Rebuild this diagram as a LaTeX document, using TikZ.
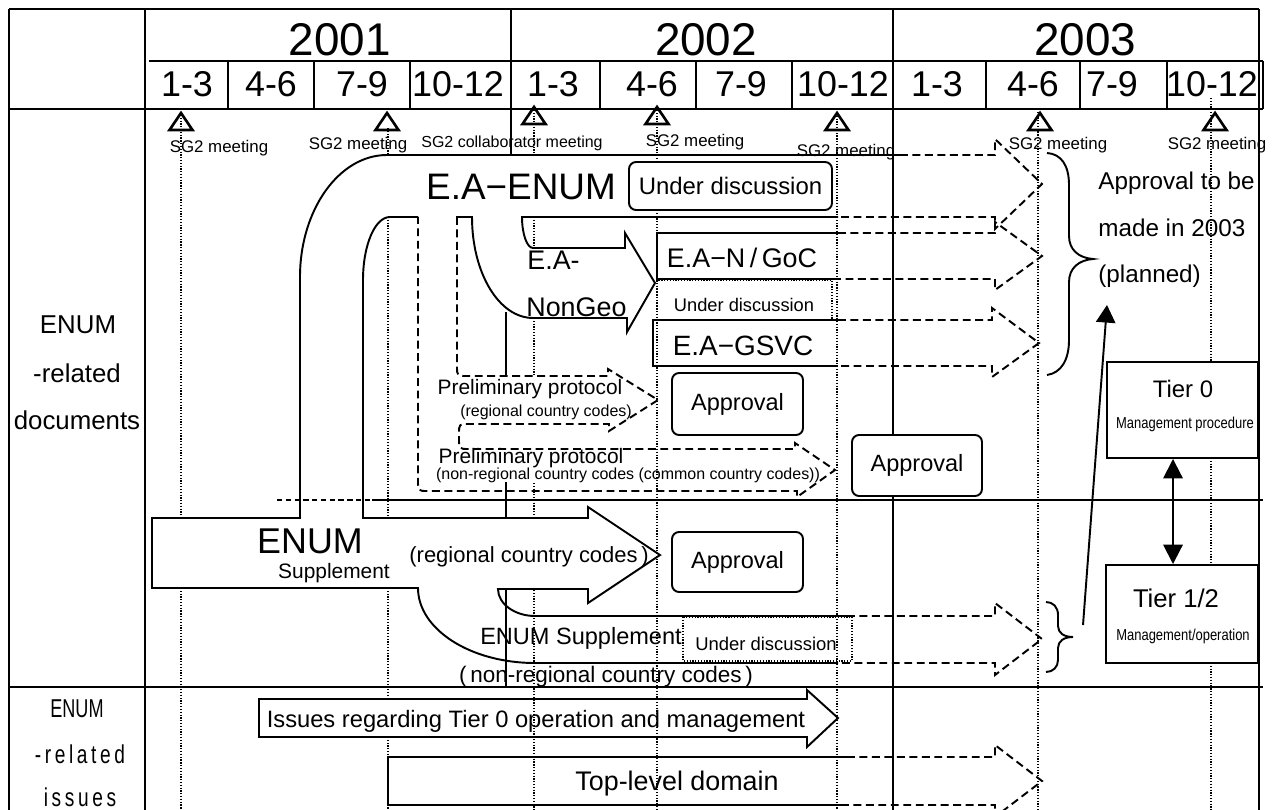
\documentclass[tikz,border=0pt]{standalone}
\usepackage{fontspec}
\setmainfont{Liberation Sans}
\newfontfamily\narrowfont[FakeStretch=0.82]{Liberation Sans}
\newfontfamily\issuenarrow[FakeStretch=0.7]{Liberation Sans}
\newfontfamily\issuespaced[FakeStretch=0.74,LetterSpace=14]{Liberation Sans}
\usetikzlibrary{arrows.meta}
\newlength{\pxu}\setlength{\pxu}{0.02cm}
\newcommand{\fsz}[1]{\fontsize{#1pt}{#1pt}\selectfont}

\begin{document}
\begin{tikzpicture}[x=0.02cm, y=-0.02cm,
  rule/.style={line width=1.1pt},
  thinrule/.style={line width=0.6pt},
  edge/.style={line width=1.1pt, line join=miter},
  dashedge/.style={line width=1.1pt, line join=miter, dash pattern=on 4.5pt off 2.6pt},
  meetline/.style={line width=0.7pt, dash pattern=on 0.7pt off 0.9pt},
  tri/.style={line width=1.5pt, line join=miter},
  lbl/.style={inner sep=0pt, anchor=base},
  lblw/.style={inner sep=0pt, anchor=base west},
  rbox/.style={draw, line width=1.1pt, fill=white, rounded corners=4pt, inner sep=0pt},
  pbox/.style={draw, line width=1.1pt, fill=white, inner sep=0pt},
  tipstyle/.style={line width=1.1pt},
]
\useasboundingbox (0,0) rectangle (1273,810);
\clip (0,0) rectangle (1273,810);
\fill[white] (0,0) rectangle (1273,810);

% ---------- table frame ----------
\draw[rule] (9,9) -- (1259,9);
\draw[rule] (9,9) -- (9,810);
\draw[rule] (1259,9) -- (1259,810);
\draw[rule] (145,9) -- (145,810);
\draw[rule] (149,61) -- (1263,61);
\draw[rule] (9,109) -- (1263,109);
\draw[rule] (1263,61) -- (1263,109);
\draw[rule] (9,687) -- (1263,687);
\foreach \q in {228,314,410,600,696,792,986,1080,1167}
  \draw[rule] (\q,61) -- (\q,109);
% year boundaries
\draw[rule] (511,9) -- (511,155);
\draw[rule] (506,312) -- (506,376);
\draw[rule] (506,482) -- (506,518);
\draw[rule] (506,590) -- (506,687);
\draw[rule] (893,9) -- (893,435);
\draw[rule] (893,496) -- (893,810);
% thin separator inside the documents row
\draw[thinrule, dash pattern=on 3pt off 2pt] (277,500) -- (372,500);
\draw[thinrule] (372,500) -- (1263,500);

% ---------- header ----------
\node[lbl, font=\fsz{26.1}] (y2001) at (340,56) {2001};
\node[lbl, font=\fsz{26.1}] (y2002) at (706,56) {2002};
\node[lbl, font=\fsz{26.1}] (y2003) at (1085,56) {2003};
\foreach \qx/\qt [count=\i] in {187/1-3,271/4-6,362/7-9,458/10-12,553/1-3,652/4-6,741/7-9,843/10-12,937/1-3,1033/4-6,1112/7-9,1212/10-12}
  \node[lbl, font=\fsz{20.4}] (q\i) at (\qx,97) {\qt};

% ---------- row titles ----------
\node[lbl, font=\fsz{14.7}] (docA) at (78,334) {ENUM};
\node[lbl, font=\fsz{14.7}] (docB) at (77,382) {-related};
\node[lbl, font=\fsz{14.7}] (docC) at (77,429) {documents};
\node[lbl, font=\issuenarrow\fsz{14.7}] (isA) at (77,717) {ENUM};
\node[lbl, font=\issuespaced\fsz{14.7}] (isB) at (80,763) {-related};
\node[lbl, font=\issuespaced\fsz{14.7}] (isC) at (80,806) {issues};

% ---------- meetings ----------
\foreach \mx/\my in {181/113,387/113,534/107,657/107,837/113,1040/113,1215/113}
  \draw[tri] (\mx-11.5,\my+17) -- (\mx,\my) -- (\mx+11.5,\my+17) -- cycle;
\node[lbl, font=\fsz{9.6}] (m1) at (219,153) {SG2 meeting};
\node[lbl, font=\fsz{9.6}] (m2) at (358,150) {SG2 meeting};
\node[lbl, font=\fsz{9.1}] (m3) at (512,148) {SG2 collaborator meeting};
\node[lbl, font=\fsz{9.6}] (m4) at (695,147) {SG2 meeting};
\node[lbl, font=\fsz{9.6}] (m5) at (846,157) {SG2 meeting};
\node[lbl, font=\fsz{9.6}] (m6) at (1058,150) {SG2 meeting};
\node[lbl, font=\fsz{9.6}] (m7) at (1217,150) {SG2 meeting};

% ---------- ENUM Supplement trunk and E.A-ENUM branch ----------
\draw[edge] (900,155) -- (387,155) .. controls (339,155) and (300,210) .. (300,277)
  -- (300,518) -- (152,518) -- (152,588) -- (418,588)
  .. controls (418,629) and (470,663) .. (535,663) -- (838,663);
\draw[edge] (418,217) -- (390,217) .. controls (375,217) and (363,245) .. (363,280)
  -- (363,518) -- (588,518) -- (588,507) -- (660,555) -- (588,603) -- (588,589) -- (498,589)
  .. controls (498,604) and (515,616) .. (535,616) -- (847,616);
\draw[edge] (838,217) -- (522,217) .. controls (522,234) and (527,248) .. (533,248)
  -- (625,248) -- (625,233) -- (655,283) -- (627,332) -- (627,318) -- (533,318)
  .. controls (499,318) and (472,273) .. (472,217) -- (456,217);
\draw[dashedge] (900,155) -- (995,155) -- (995,139) -- (1042,184) -- (995,229) -- (995,217) -- (838,217);
\draw[dashedge] (847,616) -- (995,616) -- (995,603) -- (1042,639) -- (995,675) -- (995,663) -- (838,663);

% preliminary protocol fork
\draw[dashedge] (457,217) -- (457,366) .. controls (457,376) .. (467,376) -- (608,376) -- (608,369)
  -- (658,400) -- (609,431) -- (609,424) -- (469,424) .. controls (459,424) .. (459,434)
  -- (459,439) .. controls (459,449) .. (469,449) -- (795,449) -- (795,443) -- (835,470)
  -- (797,497) -- (797,491) -- (428,491) .. controls (418,491) .. (418,481) -- (418,217);

% E.A-N/GoC and E.A-GSVC
\draw[edge] (838,233) -- (657,233) -- (657,279) -- (838,279);
\draw[dashedge] (838,233) -- (995,233) -- (995,222) -- (1042,256) -- (995,290) -- (995,279) -- (838,279);
\draw[meetline] (657,280) rectangle (832,320);
\draw[edge] (838,320) -- (653,320) -- (653,366) -- (838,366);
\draw[dashedge] (838,320) -- (992,320) -- (992,308) -- (1039,343) -- (992,377) -- (992,366) -- (838,366);

% under discussion band of the non-regional supplement
\draw[meetline] (683,617) rectangle (852,661);

% issues row
\draw[edge, fill=white] (259,699) -- (807,699) -- (807,690) -- (838,718) -- (807,747) -- (807,737) -- (259,737) -- cycle;
\draw[edge] (847,757) -- (388,757) -- (388,805) -- (847,805);
\draw[dashedge] (847,757) -- (995,757) -- (995,745) -- (1042,781) -- (995,817) -- (995,805) -- (847,805);

% ---------- meeting lines ----------
\draw[meetline] (181,115) -- (181,518);
\draw[meetline] (181,588) -- (181,810);
\draw[meetline] (388,128) -- (388,155);
\draw[meetline] (388,217) -- (388,518);
\draw[meetline] (388,588) -- (388,699);
\draw[meetline] (388,737) -- (388,810);
\draw[meetline] (534,110) -- (534,155);
\draw[meetline] (534,217) -- (534,248);
\draw[meetline] (534,318) -- (534,376);
\draw[meetline] (534,483) -- (534,518);
\draw[meetline] (534,590) -- (534,810);
\draw[meetline] (657,110) -- (657,162);
\draw[meetline] (657,210) -- (657,810);
\draw[meetline] (837,113) -- (837,810);
\draw[meetline] (1038,109) -- (1038,810);
\draw[meetline] (1211,98) -- (1211,362);
\draw[meetline] (1211,458) -- (1211,565);
\draw[meetline] (1211,663) -- (1211,810);

% ---------- boxes ----------
\node[rbox, minimum width=203\pxu, minimum height=48\pxu, font=\fsz{13.6}] (ud1) at (730.5,186) {Under discussion};
\node[rbox, minimum width=131\pxu, minimum height=62\pxu, font=\fsz{13.4}] (ap1) at (737.5,404) {Approval};
\node[rbox, minimum width=130\pxu, minimum height=61\pxu, font=\fsz{13.4}] (ap2) at (917,465.5) {Approval};
\node[rbox, minimum width=131\pxu, minimum height=60\pxu, font=\fsz{13.4}] (ap3) at (737.5,562) {Approval};
\node[pbox, minimum width=151\pxu, minimum height=96\pxu] (tier0) at (1182.5,410) {};
\node[pbox, minimum width=152\pxu, minimum height=98\pxu] (tier12) at (1182,614) {};

% ---------- texts ----------
\node[lbl, font=\fsz{21}] (eaenum) at (521,200) {E.A−ENUM};
\node[lblw, font=\fsz{15.3}] (eaA) at (527,270) {E.A-};
\node[lblw, font=\fsz{15.3}] (eaB) at (526,317) {NonGeo};
\node[lbl, font=\fsz{15.3}] (goc) at (742,268) {E.A−N\,/\,GoC};
\node[lbl, font=\fsz{10.4}] (ud2) at (744,312) {Under discussion};
\node[lbl, font=\fsz{15.9}] (gsvc) at (743,356) {E.A−GSVC};
\node[lbl, font=\fsz{11.9}] (pp1) at (530,395) {Preliminary protocol};
\node[lbl, font=\fsz{9.1}] (pp1c) at (546,417) {(regional country codes)};
\node[lbl, font=\fsz{11.9}] (pp2) at (531,463) {Preliminary protocol};
\node[lbl, font=\fsz{9.1}] (pp2c) at (628,479) {(non-regional country codes (common country codes))};
\node[lbl, font=\fsz{20.4}] (enum) at (310,553) {ENUM};
\node[lbl, font=\fsz{11.9}] (supp) at (334,578) {Supplement};
\node[lbl, font=\fsz{12.5}] (regcc) at (529,562) {(regional country codes\,)};
\node[lbl, font=\fsz{13.4}] (enumsupp) at (581,644) {ENUM Supplement};
\node[lbl, font=\fsz{10.5}] (ud3) at (766,650) {Under discussion};
\node[lbl, font=\fsz{12.8}] (nonreg) at (606,682) {(\,non-regional country codes\,)};
\node[lbl, font=\fsz{13.5}] (iss) at (536,727) {Issues regarding Tier 0 operation and management};
\node[lbl, font=\fsz{15.3}] (tld) at (677,790) {Top-level domain};
\node[lblw, font=\fsz{13.8}] (plA) at (1098,190) {Approval to be};
\node[lblw, font=\fsz{13.8}] (plB) at (1098,237) {made in 2003};
\node[lblw, font=\fsz{13.8}] (planned) at (1098,283) {(planned)};
\node[lbl, font=\fsz{13.6}] (t0a) at (1183,398) {Tier 0};
\node[lbl, font=\narrowfont\fsz{9}] (t0b) at (1185,428) {Management procedure};
\node[lbl, font=\fsz{14.6}] (t12a) at (1176,607) {Tier 1/2};
\node[lbl, font=\narrowfont\fsz{9}] (t12b) at (1183,640) {Management/operation};

% ---------- braces and connectors ----------
\draw[edge] (1047,153) .. controls (1061,154) and (1069,165) .. (1069,185) -- (1069,236)
  .. controls (1069,250) and (1079,258) .. (1093,259)
  .. controls (1079,260) and (1069,268) .. (1069,282) -- (1069,340)
  .. controls (1069,360) and (1061,373) .. (1047,375);
\draw[edge] (1046,602) .. controls (1053,602) and (1058,607) .. (1058,615) -- (1058,626)
  .. controls (1058,633) and (1064,637) .. (1073,637)
  .. controls (1064,637) and (1058,641) .. (1058,648) -- (1058,660)
  .. controls (1058,667) and (1053,672) .. (1046,672);
\coordinate (bracefoot) at (1083,625);
\coordinate (plannedfoot) at (1107,305);
\draw[tipstyle, -{Triangle[length=10pt,width=11pt]}] (bracefoot) -- (plannedfoot);
\coordinate (dblx) at (1173,0);
\draw[tipstyle, {Triangle[length=11pt,width=11pt]}-{Triangle[length=11pt,width=11pt]}]
  (tier0.south -| dblx) -- (tier12.north -| dblx);
\end{tikzpicture}
\end{document}
